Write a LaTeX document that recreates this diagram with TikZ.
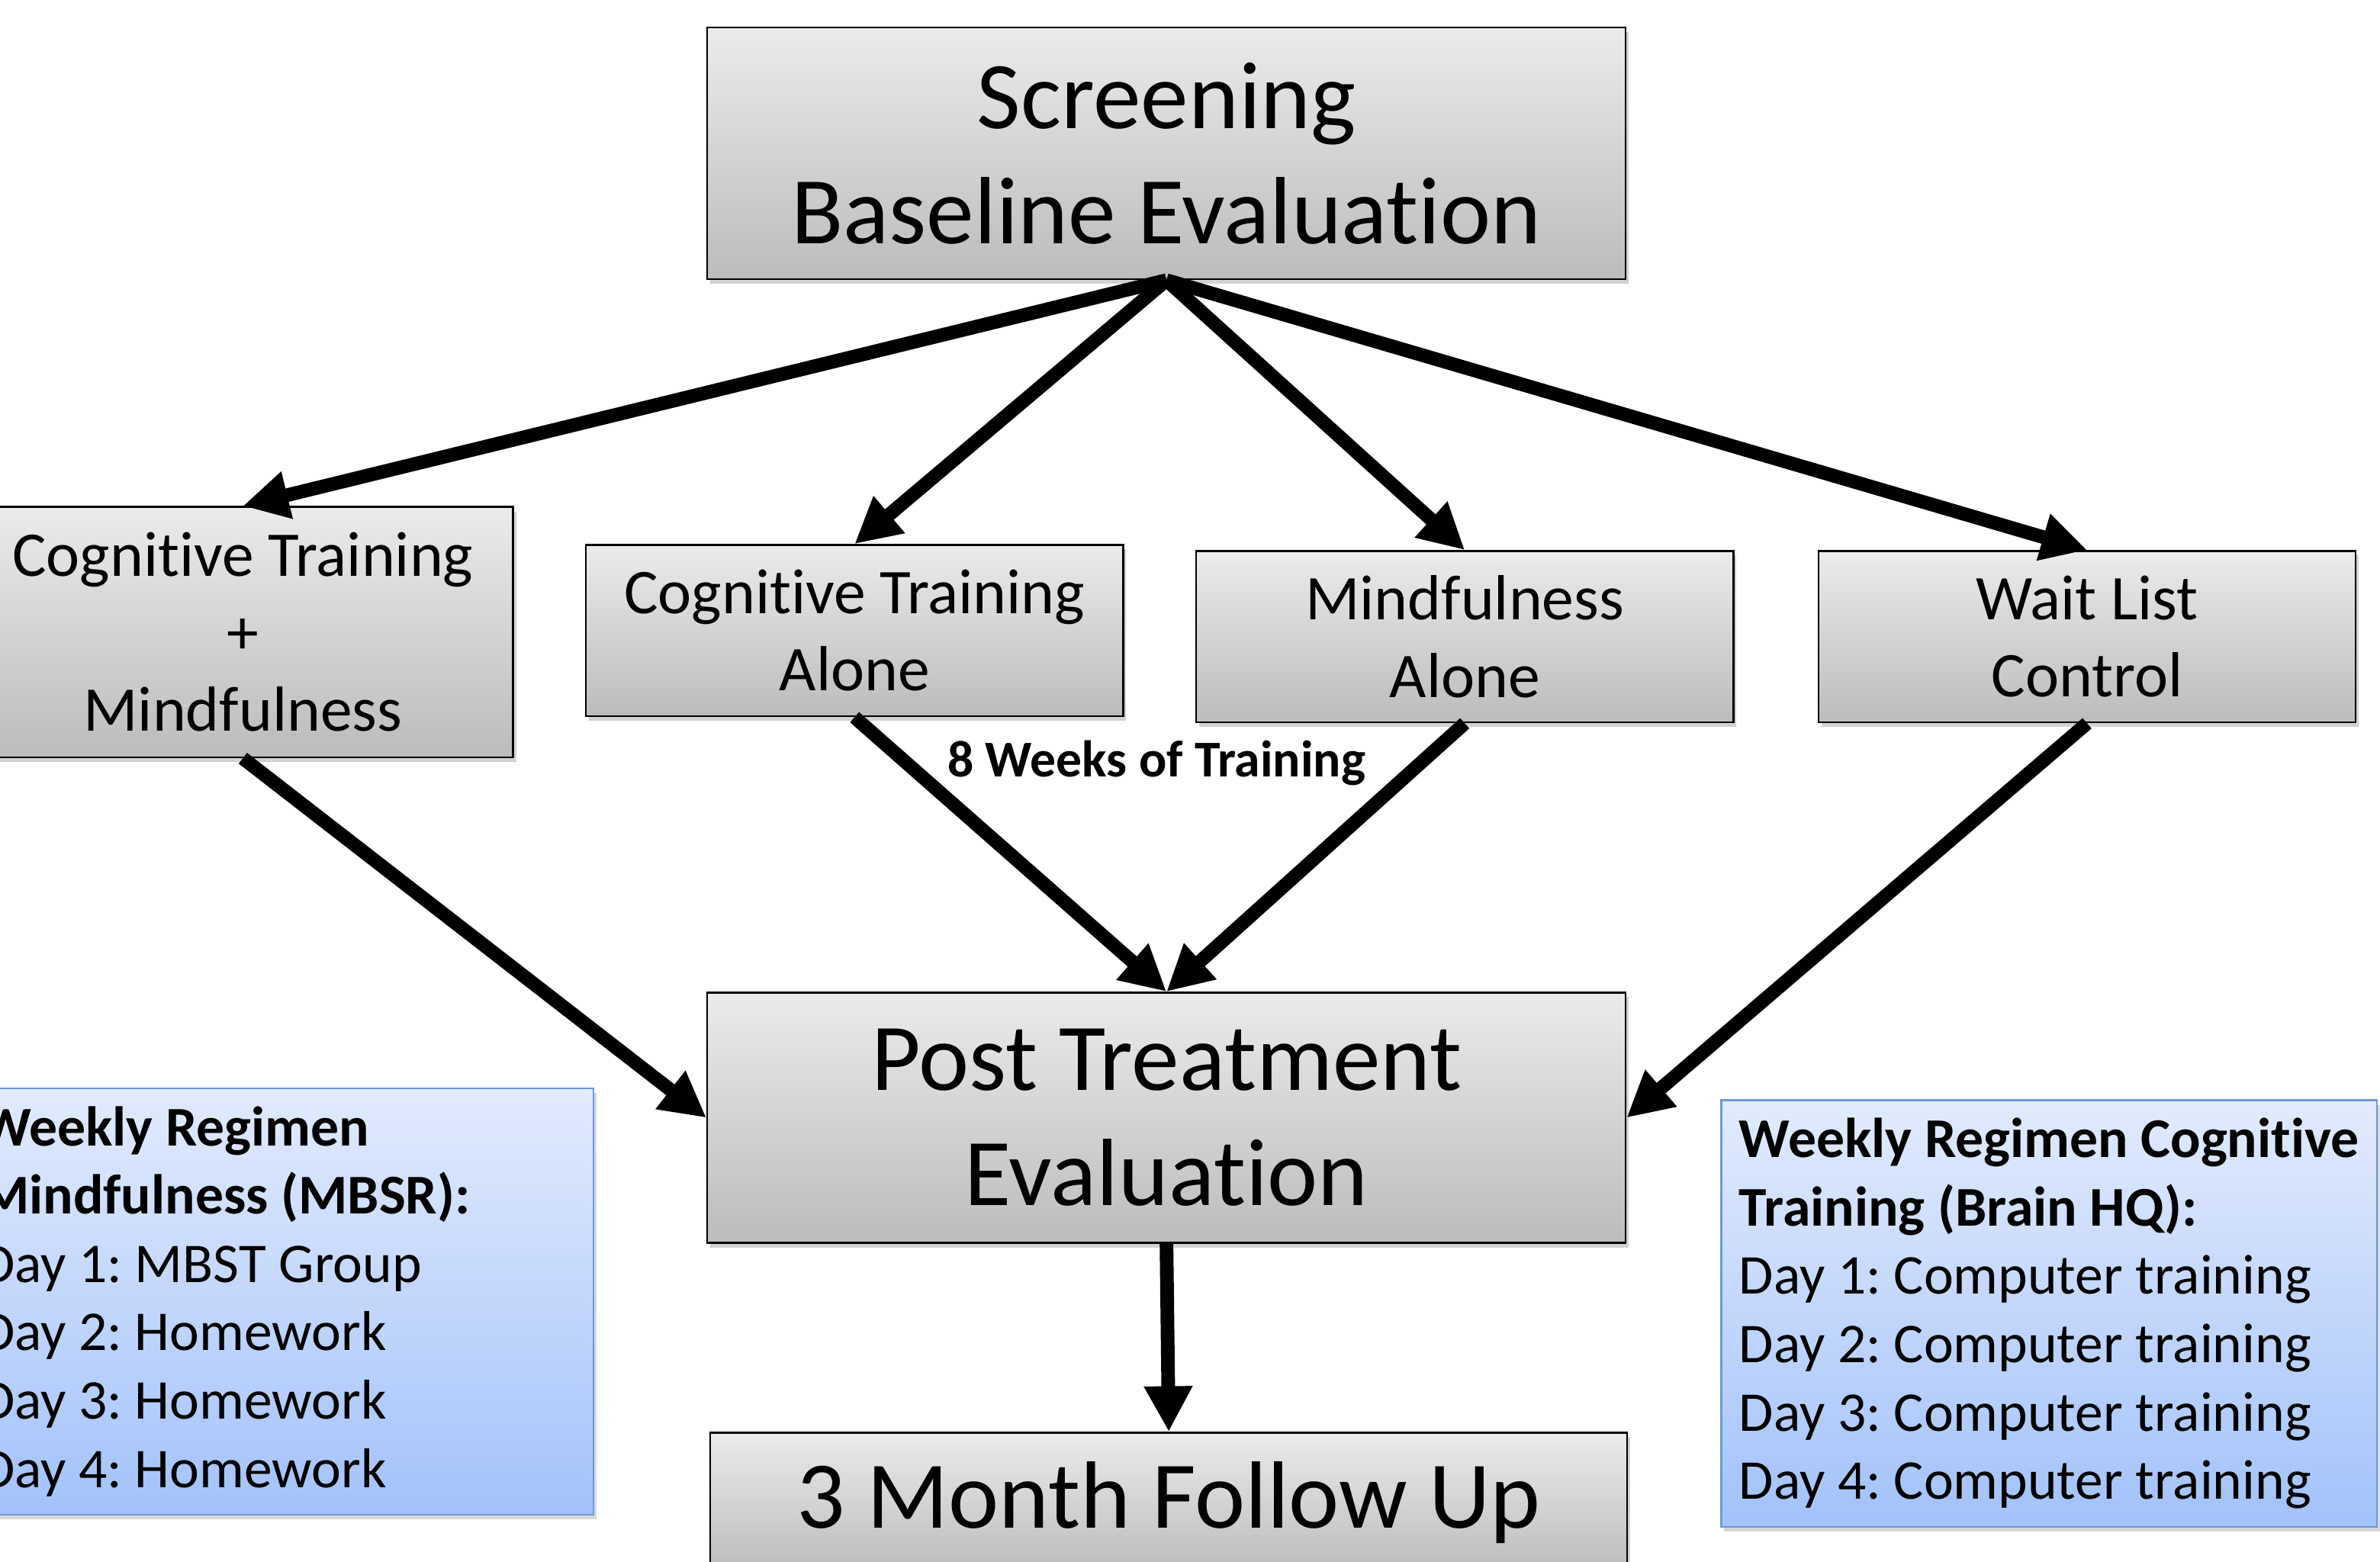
\documentclass[tikz,border=0pt]{standalone}
\usepackage{fontspec}
\setmainfont{Carlito}[Ligatures=NoCommon]
\usetikzlibrary{arrows.meta,shadows}
\definecolor{gtop}{HTML}{EBEBEB}
\definecolor{gbot}{HTML}{BCBCBC}
\definecolor{btop}{HTML}{E2EBFD}
\definecolor{bbot}{HTML}{A3C2FA}
\definecolor{bline}{HTML}{6E98D8}
\newcommand\fbig{\fontsize{63}{76}\selectfont}
\newcommand\fmed{\fontsize{42}{51}\selectfont}
\newcommand\flab{\fontsize{34}{40}\selectfont\bfseries}
\newcommand\fblue{\fontsize{37}{45}\selectfont}
\newcommand\tIi{t\kern0pt i}
\frenchspacing
\begin{document}
\frenchspacing
\begin{tikzpicture}[x=1pt,y=-1pt,
  graybox/.style={draw=black, line width=1.2pt, top color=gtop, bottom color=gbot,
    inner sep=0pt, align=center,
    drop shadow={shadow xshift=2pt, shadow yshift=-3pt, opacity=0.35}},
  bluebox/.style={draw=bline, line width=1.2pt, top color=btop, bottom color=bbot,
    inner ysep=0pt, align=left, font=\fblue\frenchspacing,
    drop shadow={shadow xshift=2pt, shadow yshift=-3pt, opacity=0.3}},
  arr/.style={line width=9pt, -{Triangle[length=30pt,width=30pt]}}
]
\useasboundingbox (0,0) rectangle (1568,1029);
\fill[white] (0,0) rectangle (1568,1029);

\node[graybox, font=\fbig, minimum width=605pt, minimum height=166pt] (top) at (768.5,101) {Screening\\Baseline Evalua\tIi on};
\node[graybox, font=\fmed, minimum width=356pt, minimum height=165pt] (cm) at (160,416.5) {Cogni\tIi ve Training\\+\\Mindfulness};
\node[graybox, font=\fmed, minimum width=354pt, minimum height=113pt] (ca) at (563,415.5) {Cogni\tIi ve Training\\Alone};
\node[graybox, font=\fmed, minimum width=354pt, minimum height=113pt] (ma) at (965,419.5) {Mindfulness\\Alone};
\node[graybox, font=\fmed, minimum width=354pt, minimum height=113pt] (wl) at (1375,419.5) {Wait List\\Control};
\node[graybox, font=\fbig, minimum width=605pt, minimum height=165pt] (post) at (768.5,736.5) {Post Treatment\\Evalua\tIi on};
\node[graybox, font=\fbig, minimum width=604pt, minimum height=92pt] (fu) at (770,990) {3 Month Follow Up};

\node[bluebox, minimum width=415pt, minimum height=281pt, inner xsep=11pt] (lb) at (183.5,857.5)
  {\makebox[393pt][l]{\textbf{Weekly Regimen}}\\\textbf{Mindfulness (MBSR):}\\Day 1: MBST Group\\Day 2: Homework\\Day 3: Homework\\Day 4: Homework};
\node[bluebox, minimum width=432pt, minimum height=281pt, inner xsep=0pt] (rb) at (1350,865.5)
  {\textbf{Weekly Regimen Cogni\tIi ve}\\\textbf{Training (Brain HQ):}\\Day 1: Computer training\\Day 2: Computer training\\Day 3: Computer training\\Day 4: Computer training};

\node[font=\flab] (lab) at (762,503) {8 Weeks of Training};

\draw[arr] (top.south) -- (cm.north);
\draw[arr] (top.south) -- (ca.north);
\draw[arr] (top.south) -- (ma.north);
\draw[arr] (top.south) -- (wl.north);
\draw[arr] (cm.south) -- (post.west);
\draw[arr] (ca.south) -- (post.north);
\draw[arr] (ma.south) -- (post.north);
\draw[arr] (wl.south) -- (post.east);
\draw[arr] (post.south) -- (fu.north);
\end{tikzpicture}
\end{document}
